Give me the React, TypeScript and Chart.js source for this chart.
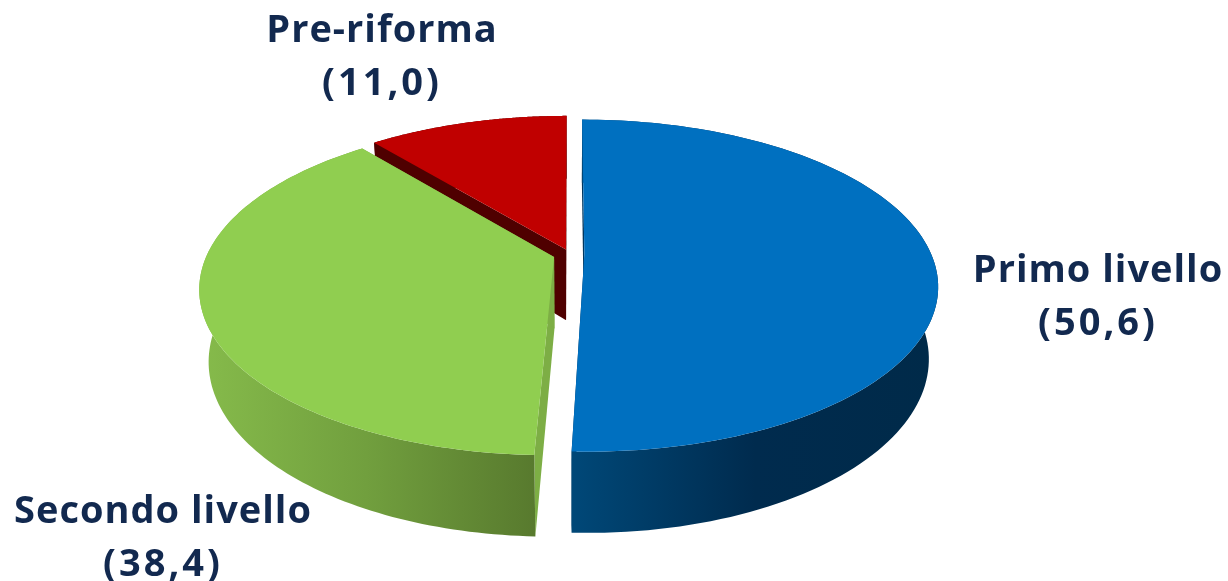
import React, { useEffect, useRef } from "react";
import { Chart, registerables } from "chart.js";

Chart.register(...registerables);

const categories = ["Primo livello", "Secondo livello", "Pre-riforma"];
const values = [50.6, 38.4, 11.0];
const valueLabels = ["(50,6)", "(38,4)", "(11,0)"];

const topColors = ["#0070C0", "#90CE50", "#C00000"];
const explode = [10.3, 12, 8.5];
const labelCenters = [
  [1098, 271],
  [163, 512],
  [382, 31],
];
const LABEL_COLOR = "#12294F";
const LINE_GAP = 53;

// Perspective of the tilted disc
const C = 347;
const B = 160.2;
const K = 0.1867;
const DEPTH_W = 0.025;
const DEPTH_H = 73;

type Pt = [number, number];

const perspectivePie = {
  id: "perspectivePie",
  beforeDatasetDraw(chart: any) {
    const ctx: CanvasRenderingContext2D = chart.ctx;
    const arcs = chart.getDatasetMeta(0).data;
    const wallStops = [
      ["#004878", "#002B4E", "#002A49"],
      ["#86BB4B", "#719F3E", "#587A2E"],
      ["#4F0000", "#4F0000", "#4F0000"],
    ];
    const sideColors = ["#00365E", "#7DAE45", "#4F0000"];
    // back-to-front: the red slice first, the blue one last
    for (const i of [2, 1, 0]) {
      const el = arcs[i];
      const R = el.outerRadius;
      const mid = (el.startAngle + el.endAngle) / 2;
      const off = (el.options.offset || 0) / R;
      const du = Math.cos(mid) * off;
      const dv = Math.sin(mid) * off;
      const project = (r: number, a: number, low: boolean): Pt => {
        const u = r * Math.cos(a) + du;
        const v = r * Math.sin(a) + dv;
        const w = 1 - K * v + (low ? DEPTH_W : 0);
        return [el.x + (C * u) / w, el.y + (B * v + (low ? DEPTH_H : 0)) / w];
      };
      const angles: number[] = [];
      const steps = 120;
      for (let s = 0; s <= steps; s++) {
        angles.push(el.startAngle + ((el.endAngle - el.startAngle) * s) / steps);
      }
      const poly = (pts: Pt[], fill: string | CanvasGradient) => {
        ctx.beginPath();
        pts.forEach((p, n) => (n ? ctx.lineTo(p[0], p[1]) : ctx.moveTo(p[0], p[1])));
        ctx.closePath();
        ctx.fillStyle = fill;
        ctx.fill();
      };
      const rimTop = angles.map((a) => project(1, a, false));
      const rimLow = angles.map((a) => project(1, a, true));
      // radial side faces
      for (const a of [el.startAngle, el.endAngle]) {
        poly(
          [project(0, a, false), project(1, a, false), project(1, a, true), project(0, a, true)],
          sideColors[i],
        );
      }
      // curved outer wall
      const xs = rimTop.map((p) => p[0]);
      const g = ctx.createLinearGradient(Math.min(...xs), 0, Math.max(...xs), 0);
      wallStops[i].forEach((c, n) => g.addColorStop(n / 2, c));
      poly([...rimTop, ...rimLow.slice().reverse()], g);
      // top face
      poly([project(0, 0, false), ...rimTop], el.options.backgroundColor);
    }
    return false;
  },
  afterDraw(chart: any) {
    const ctx: CanvasRenderingContext2D = chart.ctx;
    ctx.save();
    ctx.font = "bold 38px 'Open Sans'";
    ctx.fillStyle = LABEL_COLOR;
    ctx.textAlign = "center";
    ctx.textBaseline = "middle";
    categories.forEach((name, i) => {
      const [x, y] = labelCenters[i];
      (ctx as any).letterSpacing = "1px";
      ctx.fillText(name, x, y);
      (ctx as any).letterSpacing = "3px";
      ctx.fillText(valueLabels[i], x, y + LINE_GAP);
    });
    ctx.restore();
  },
};

export default function App() {
  const ref = useRef<HTMLCanvasElement>(null);
  useEffect(() => {
    document.body.style.margin = "0";
    const chart = new Chart(ref.current as HTMLCanvasElement, {
      type: "pie",
      data: {
        labels: categories,
        datasets: [
          {
            data: values,
            backgroundColor: topColors,
            offset: explode,
            borderWidth: 0,
          },
        ],
      },
      options: {
        responsive: false,
        animation: false,
        layout: { padding: { right: 88, bottom: 72 } },
        plugins: { legend: { display: false }, tooltip: { enabled: false } },
      },
      plugins: [perspectivePie],
    } as any);
    return () => chart.destroy();
  }, []);
  return (
    <canvas
      ref={ref}
      width={1228}
      height={581}
      style={{ display: "block", width: 1228, height: 581 }}
    />
  );
}
